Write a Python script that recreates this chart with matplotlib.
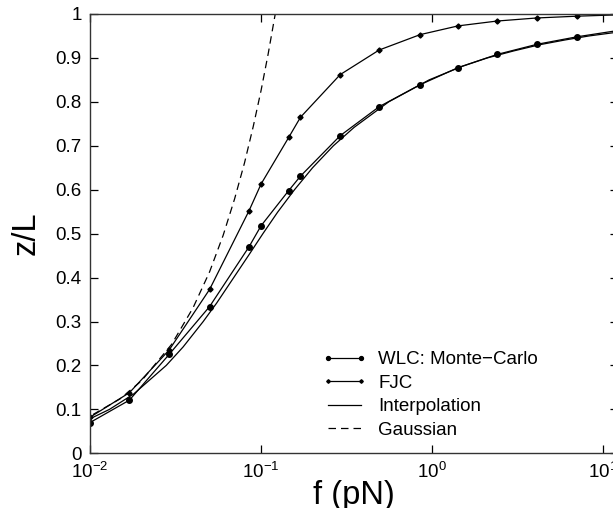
import matplotlib
matplotlib.use("Agg")
import matplotlib.pyplot as plt
from matplotlib.ticker import FixedLocator, FixedFormatter, NullLocator

plt.rcParams['font.family'] = ['Liberation Sans', 'DejaVu Sans']
plt.rcParams['mathtext.fontset'] = 'custom'
plt.rcParams['mathtext.rm'] = 'Liberation Sans'
plt.rcParams['mathtext.it'] = 'Liberation Sans:italic'

# WLC Monte-Carlo points
f_wlc = [0.01, 0.017, 0.029, 0.05, 0.085, 0.1, 0.145, 0.17, 0.29, 0.49, 0.85, 1.42, 2.4, 4.1, 7.0, 12.0]
z_wlc = [0.070, 0.121, 0.225, 0.334, 0.470, 0.518, 0.598, 0.631, 0.723, 0.789, 0.839, 0.878, 0.908, 0.931, 0.948, 0.962]

# FJC points
f_fjc = [0.01, 0.017, 0.029, 0.05, 0.085, 0.1, 0.145, 0.17, 0.29, 0.49, 0.85, 1.42, 2.4, 4.1, 7.0, 12.0]
z_fjc = [0.082, 0.138, 0.235, 0.373, 0.552, 0.613, 0.719, 0.765, 0.862, 0.918, 0.953, 0.973, 0.984, 0.991, 0.995, 0.998]

# interpolation curve
f_int = [0.009, 0.013, 0.018, 0.0279, 0.035, 0.0459, 0.055, 0.0692, 0.085, 0.1025, 0.125, 0.1568,
         0.2, 0.2646, 0.35, 0.557, 0.96, 1.5, 2.1, 3.0, 4.24, 6.0, 8.25, 12.87]
z_int = [0.07, 0.10, 0.135, 0.20, 0.242, 0.30, 0.342, 0.40, 0.452, 0.50, 0.549, 0.60,
         0.65, 0.70, 0.742, 0.80, 0.85, 0.881, 0.90, 0.916, 0.93, 0.941, 0.95, 0.96]

# gaussian curve
f_gau = [0.009, 0.015, 0.02, 0.03, 0.04, 0.05, 0.06, 0.07, 0.08, 0.09, 0.1, 0.11, 0.121, 0.13]
z_gau = [0.074, 0.124, 0.165, 0.248, 0.331, 0.413, 0.496, 0.579, 0.661, 0.744, 0.826, 0.909, 1.0, 1.074]

yticks = [0, 0.1, 0.2, 0.3, 0.4, 0.5, 0.6, 0.7, 0.8, 0.9, 1]
ytick_labels = ['0', '0.1', '0.2', '0.3', '0.4', '0.5', '0.6', '0.7', '0.8', '0.9', '1']
xticks = [0.01, 0.1, 1, 10]
xtick_labels = [r'$\mathregular{10^{-2}}$', r'$\mathregular{10^{-1}}$', r'$\mathregular{10^{0}}$', r'$\mathregular{10^{1}}$']

fig = plt.figure(figsize=(6.13, 5.08), dpi=100)
ax = fig.add_axes([90/613, (508-453.3)/508, (618-90)/613, (453.3-14)/508])

lw = 0.9
ax.plot(f_wlc, z_wlc, color='black', lw=lw, marker='o', markersize=4, label='WLC: Monte\u2212Carlo')
ax.plot(f_fjc, z_fjc, color='black', lw=lw, marker='D', markersize=2.6, label='FJC')
ax.plot(f_int, z_int, color='black', lw=lw, label='Interpolation')
ax.plot(f_gau, z_gau, color='black', lw=lw, dashes=(6, 4), label='Gaussian')

ax.set_xscale('log')
ax.set_xlim(0.01, 12.2)
ax.set_ylim(0, 1)
ax.xaxis.set_major_locator(FixedLocator(xticks))
ax.xaxis.set_major_formatter(FixedFormatter(xtick_labels))
ax.xaxis.set_minor_locator(NullLocator())
ax.yaxis.set_major_locator(FixedLocator(yticks))
ax.yaxis.set_major_formatter(FixedFormatter(ytick_labels))

ax.tick_params(which='both', direction='in', top=True, right=True, length=6, width=0.9,
               labelsize=13.5, pad=6)
for s in ax.spines.values():
    s.set_linewidth(1.0)
    s.set_color('#333333')

ax.set_xlabel('f (pN)', fontsize=23.5, labelpad=-1)
ax.set_ylabel('z/L', fontsize=23.5, labelpad=10)

leg = ax.legend(loc='upper left', bbox_to_anchor=(322/613, 1 - 351/508), bbox_transform=fig.transFigure,
                frameon=False, fontsize=13.5, numpoints=2, handlelength=2.4, handletextpad=0.6,
                labelspacing=0.34, borderpad=0, borderaxespad=0, markerscale=0.7)

fig.savefig('out.png', dpi=100)
